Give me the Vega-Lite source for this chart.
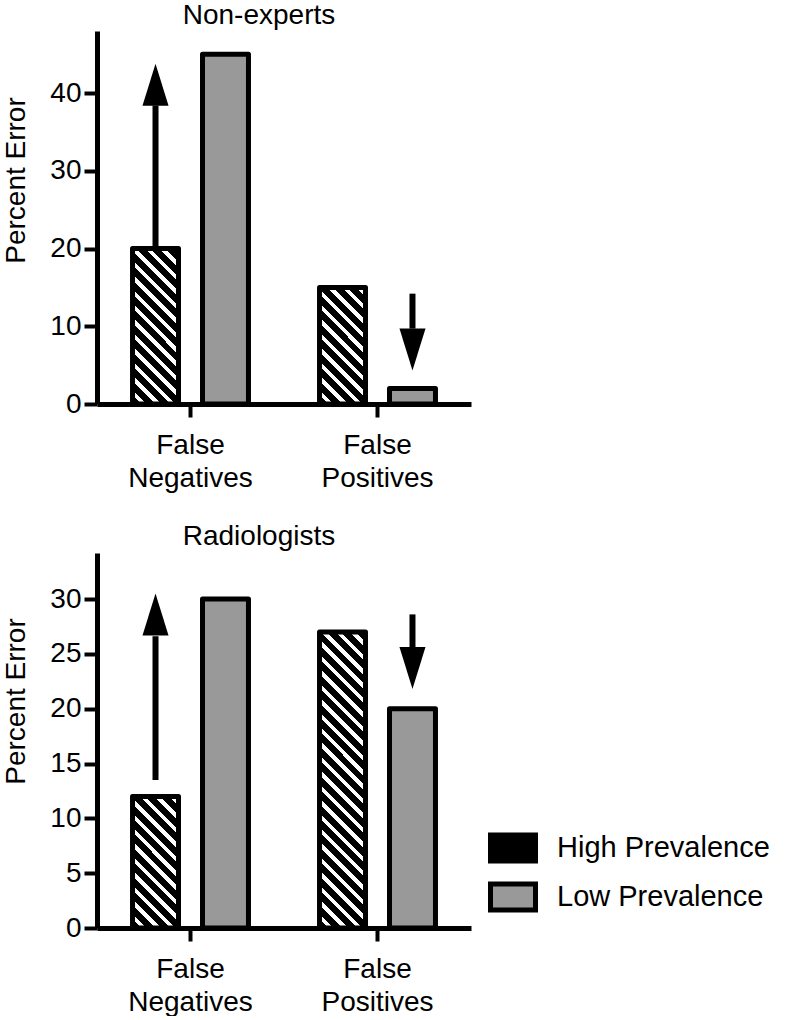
{
  "$schema": "https://vega.github.io/schema/vega-lite/v6.json",
  "background": "white",
  "padding": {"left": 2, "top": 2, "right": 0, "bottom": 0},
  "config": {
    "font": "Liberation Sans",
    "view": {"stroke": null},
    "axis": {"domainColor": "black", "domainWidth": 5, "tickColor": "black", "tickWidth": 4, "tickSize": 13, "labelColor": "black", "labelFontSize": 28, "labelFont": "Liberation Sans", "titleColor": "black", "titleFontSize": 28, "titleFontWeight": "normal", "titleFont": "Liberation Sans", "grid": false, "labelPadding": 3, "titlePadding": 19},
    "title": {"fontSize": 28, "fontWeight": "normal", "color": "black", "font": "Liberation Sans"}
  },
  "datasets": {
    "bars": [
      {"panel": "Non-experts", "category": "False Negatives", "prevalence": "High Prevalence", "value": 20},
      {"panel": "Non-experts", "category": "False Negatives", "prevalence": "Low Prevalence", "value": 45},
      {"panel": "Non-experts", "category": "False Positives", "prevalence": "High Prevalence", "value": 15},
      {"panel": "Non-experts", "category": "False Positives", "prevalence": "Low Prevalence", "value": 2},
      {"panel": "Radiologists", "category": "False Negatives", "prevalence": "High Prevalence", "value": 12},
      {"panel": "Radiologists", "category": "False Negatives", "prevalence": "Low Prevalence", "value": 30},
      {"panel": "Radiologists", "category": "False Positives", "prevalence": "High Prevalence", "value": 27},
      {"panel": "Radiologists", "category": "False Positives", "prevalence": "Low Prevalence", "value": 20}
    ],
    "arrows": [
      {"panel": "Non-experts", "category": "False Negatives", "prevalence": "High Prevalence", "start": 20, "base": 38.4, "tip": 43.8, "dir": "up"},
      {"panel": "Non-experts", "category": "False Positives", "prevalence": "Low Prevalence", "start": 14.2, "base": 9.7, "tip": 4.3, "dir": "down"},
      {"panel": "Radiologists", "category": "False Negatives", "prevalence": "High Prevalence", "start": 13.5, "base": 26.6, "tip": 30.5, "dir": "up"},
      {"panel": "Radiologists", "category": "False Positives", "prevalence": "Low Prevalence", "start": 28.6, "base": 25.6, "tip": 21.8, "dir": "down"}
    ]
  },
  "spacing": 31,
  "resolve": {"scale": {"y": "independent", "fill": "independent"}, "legend": {"fill": "independent"}},
  "vconcat": [
    {
      "width": 374,
      "height": 373,
      "title": {"text": "Non-experts", "frame": "group", "dx": -25, "offset": 1},
      "layer": [
        {
          "data": {"name": "bars"},
          "transform": [{"filter": "datum.panel === 'Non-experts'"}],
          "mark": {"type": "bar", "stroke": "black", "strokeWidth": 5, "strokeJoin": "round"},
          "encoding": {
            "x": {"field": "category", "type": "nominal", "sort": ["False Negatives", "False Positives"], "scale": {"paddingInner": 0.38, "paddingOuter": 0.19}, "axis": {"title": null, "labelAngle": 0, "labelExpr": "split(datum.label, ' ')", "labelLineHeight": 33, "labelFontSize": 28, "labelPadding": 14}},
            "xOffset": {"field": "prevalence", "type": "nominal", "scale": {"domain": ["High Prevalence", "Low Prevalence"], "paddingInner": 0.343, "paddingOuter": 0}},
            "y": {"field": "value", "type": "quantitative", "scale": {"domain": [0, 48], "nice": false}, "axis": {"values": [0, 10, 20, 30, 40], "title": "Percent Error", "titleY": 149}},
            "fill": {
              "field": "prevalence", "type": "nominal",
              "scale": {"domain": ["High Prevalence", "Low Prevalence"], "range": ["white", "#999999"]},
              "legend": null,
              "condition": [
                {"test": "datum.prevalence === 'High Prevalence' && datum.category === 'False Negatives'", "value": {"gradient": "linear", "x1": 0, "y1": 1, "x2": 0.3527, "y2": -0.1916, "stops": [{"offset":0,"color":"#000"},{"offset":0.0444,"color":"#000"},{"offset":0.0444,"color":"#fff"},{"offset":0.0716,"color":"#fff"},{"offset":0.0716,"color":"#000"},{"offset":0.116,"color":"#000"},{"offset":0.116,"color":"#fff"},{"offset":0.1432,"color":"#fff"},{"offset":0.1432,"color":"#000"},{"offset":0.1876,"color":"#000"},{"offset":0.1876,"color":"#fff"},{"offset":0.2148,"color":"#fff"},{"offset":0.2148,"color":"#000"},{"offset":0.2592,"color":"#000"},{"offset":0.2592,"color":"#fff"},{"offset":0.2865,"color":"#fff"},{"offset":0.2865,"color":"#000"},{"offset":0.3309,"color":"#000"},{"offset":0.3309,"color":"#fff"},{"offset":0.3581,"color":"#fff"},{"offset":0.3581,"color":"#000"},{"offset":0.4025,"color":"#000"},{"offset":0.4025,"color":"#fff"},{"offset":0.4297,"color":"#fff"},{"offset":0.4297,"color":"#000"},{"offset":0.4741,"color":"#000"},{"offset":0.4741,"color":"#fff"},{"offset":0.5013,"color":"#fff"},{"offset":0.5013,"color":"#000"},{"offset":0.5457,"color":"#000"},{"offset":0.5457,"color":"#fff"},{"offset":0.5729,"color":"#fff"},{"offset":0.5729,"color":"#000"},{"offset":0.6173,"color":"#000"},{"offset":0.6173,"color":"#fff"},{"offset":0.6445,"color":"#fff"},{"offset":0.6445,"color":"#000"},{"offset":0.6889,"color":"#000"},{"offset":0.6889,"color":"#fff"},{"offset":0.7161,"color":"#fff"},{"offset":0.7161,"color":"#000"},{"offset":0.7605,"color":"#000"},{"offset":0.7605,"color":"#fff"},{"offset":0.7878,"color":"#fff"},{"offset":0.7878,"color":"#000"},{"offset":0.8322,"color":"#000"},{"offset":0.8322,"color":"#fff"},{"offset":0.8594,"color":"#fff"},{"offset":0.8594,"color":"#000"},{"offset":0.9038,"color":"#000"},{"offset":0.9038,"color":"#fff"},{"offset":0.931,"color":"#fff"},{"offset":0.931,"color":"#000"},{"offset":0.9754,"color":"#000"},{"offset":0.9754,"color":"#fff"},{"offset":1,"color":"#fff"}]}},
                {"test": "datum.prevalence === 'High Prevalence' && datum.category === 'False Positives'", "value": {"gradient": "linear", "x1": 0, "y1": 1, "x2": 0.4762, "y2": -0.2067, "stops": [{"offset":0,"color":"#000"},{"offset":0.055,"color":"#000"},{"offset":0.055,"color":"#fff"},{"offset":0.0887,"color":"#fff"},{"offset":0.0887,"color":"#000"},{"offset":0.1437,"color":"#000"},{"offset":0.1437,"color":"#fff"},{"offset":0.1775,"color":"#fff"},{"offset":0.1775,"color":"#000"},{"offset":0.2325,"color":"#000"},{"offset":0.2325,"color":"#fff"},{"offset":0.2662,"color":"#fff"},{"offset":0.2662,"color":"#000"},{"offset":0.3212,"color":"#000"},{"offset":0.3212,"color":"#fff"},{"offset":0.3549,"color":"#fff"},{"offset":0.3549,"color":"#000"},{"offset":0.4099,"color":"#000"},{"offset":0.4099,"color":"#fff"},{"offset":0.4437,"color":"#fff"},{"offset":0.4437,"color":"#000"},{"offset":0.4987,"color":"#000"},{"offset":0.4987,"color":"#fff"},{"offset":0.5324,"color":"#fff"},{"offset":0.5324,"color":"#000"},{"offset":0.5874,"color":"#000"},{"offset":0.5874,"color":"#fff"},{"offset":0.6211,"color":"#fff"},{"offset":0.6211,"color":"#000"},{"offset":0.6761,"color":"#000"},{"offset":0.6761,"color":"#fff"},{"offset":0.7099,"color":"#fff"},{"offset":0.7099,"color":"#000"},{"offset":0.7649,"color":"#000"},{"offset":0.7649,"color":"#fff"},{"offset":0.7986,"color":"#fff"},{"offset":0.7986,"color":"#000"},{"offset":0.8536,"color":"#000"},{"offset":0.8536,"color":"#fff"},{"offset":0.8873,"color":"#fff"},{"offset":0.8873,"color":"#000"},{"offset":0.9423,"color":"#000"},{"offset":0.9423,"color":"#fff"},{"offset":0.9761,"color":"#fff"},{"offset":0.9761,"color":"#000"},{"offset":1,"color":"#000"}]}}
              ]
            }
          }
        },
        {
          "data": {"name": "arrows"},
          "transform": [{"filter": "datum.panel === 'Non-experts'"}],
          "mark": {"type": "rule", "color": "black", "strokeWidth": 6, "strokeCap": "butt"},
          "encoding": {
            "x": {"field": "category", "type": "nominal", "sort": ["False Negatives", "False Positives"]},
            "xOffset": {"field": "prevalence", "type": "nominal"},
            "y": {"field": "start", "type": "quantitative"},
            "y2": {"field": "base"}
          }
        },
        {
          "data": {"name": "arrows"},
          "transform": [{"filter": "datum.panel === 'Non-experts' && datum.dir === 'up'"}],
          "mark": {"type": "point", "filled": true, "color": "black", "opacity": 1, "size": 1764, "strokeWidth": 0, "shape": "M0,0L0.62,2L-0.62,2Z"},
          "encoding": {
            "x": {"field": "category", "type": "nominal", "sort": ["False Negatives", "False Positives"]},
            "xOffset": {"field": "prevalence", "type": "nominal"},
            "y": {"field": "tip", "type": "quantitative"}
          }
        },
        {
          "data": {"name": "arrows"},
          "transform": [{"filter": "datum.panel === 'Non-experts' && datum.dir === 'down'"}],
          "mark": {"type": "point", "filled": true, "color": "black", "opacity": 1, "size": 1764, "strokeWidth": 0, "shape": "M0,0L0.62,-2L-0.62,-2Z"},
          "encoding": {
            "x": {"field": "category", "type": "nominal", "sort": ["False Negatives", "False Positives"]},
            "xOffset": {"field": "prevalence", "type": "nominal"},
            "y": {"field": "tip", "type": "quantitative"}
          }
        }
      ]
    },
    {
      "width": 374,
      "height": 375,
      "title": {"text": "Radiologists", "frame": "group", "dx": -25, "offset": 2},
      "layer": [
        {
          "data": {"name": "bars"},
          "transform": [{"filter": "datum.panel === 'Radiologists'"}],
          "mark": {"type": "bar", "stroke": "black", "strokeWidth": 5, "strokeJoin": "round"},
          "encoding": {
            "x": {"field": "category", "type": "nominal", "sort": ["False Negatives", "False Positives"], "scale": {"paddingInner": 0.38, "paddingOuter": 0.19}, "axis": {"title": null, "labelAngle": 0, "labelExpr": "split(datum.label, ' ')", "labelLineHeight": 33, "labelFontSize": 28, "labelPadding": 14}},
            "xOffset": {"field": "prevalence", "type": "nominal", "scale": {"domain": ["High Prevalence", "Low Prevalence"], "paddingInner": 0.343, "paddingOuter": 0}},
            "y": {"field": "value", "type": "quantitative", "scale": {"domain": [0, 34.2], "nice": false}, "axis": {"values": [0, 5, 10, 15, 20, 25, 30], "title": "Percent Error", "titleY": 148}},
            "fill": {
              "field": "prevalence", "type": "nominal",
              "scale": {"domain": ["High Prevalence", "Low Prevalence"], "range": ["black", "#999999"]},
              "legend": {
                "title": null, "orient": "none", "legendX": 391, "legendY": 270, "padding": 0,
                "symbolType": "M-1,-0.578H1V0.578H-1Z", "symbolSize": 2025, "symbolStrokeWidth": 5, "symbolStrokeColor": "black",
                "labelFontSize": 29, "labelColor": "black", "labelFont": "Liberation Sans", "labelOffset": 19, "labelLimit": 0, "rowPadding": -6.5,
                "encode": {"symbols": {"update": {
                  "fill": {"condition": {"test": "datum.value === 'High Prevalence'", "value": "black"}, "value": "#999999"},
                  "shape": {"condition": {"test": "datum.value === 'High Prevalence'", "value": "M-1,-0.5778H1V0.5778H-1Z M-0.9556,-0.2749L-0.9556,0.2838L-0.706,0.5333L-0.1473,0.5333Z M-0.9556,-0.5333L-0.9556,-0.3562L-0.066,0.5333L0.4927,0.5333L-0.574,-0.5333Z M-0.4927,-0.5333L0.574,0.5333L0.9556,0.5333L0.9556,0.3562L0.066,-0.5333Z M0.1473,-0.5333L0.9556,0.2749L0.9556,-0.2838L0.706,-0.5333Z"}, "value": "M-1,-0.578H1V0.578H-1Z"},
                  "stroke": {"value": "black"},
                  "strokeWidth": {"value": 5},
                  "opacity": {"value": 1},
                  "fillOpacity": {"value": 1}
                }}}
              },
              "condition": [
                {"test": "datum.prevalence === 'High Prevalence' && datum.category === 'False Negatives'", "value": {"gradient": "linear", "x1": 0, "y1": 1, "x2": 0.4204, "y2": -0.2026, "stops": [{"offset":0,"color":"#000"},{"offset":0.0504,"color":"#000"},{"offset":0.0504,"color":"#fff"},{"offset":0.0812,"color":"#fff"},{"offset":0.0812,"color":"#000"},{"offset":0.1316,"color":"#000"},{"offset":0.1316,"color":"#fff"},{"offset":0.1625,"color":"#fff"},{"offset":0.1625,"color":"#000"},{"offset":0.2128,"color":"#000"},{"offset":0.2128,"color":"#fff"},{"offset":0.2437,"color":"#fff"},{"offset":0.2437,"color":"#000"},{"offset":0.294,"color":"#000"},{"offset":0.294,"color":"#fff"},{"offset":0.3249,"color":"#fff"},{"offset":0.3249,"color":"#000"},{"offset":0.3753,"color":"#000"},{"offset":0.3753,"color":"#fff"},{"offset":0.4062,"color":"#fff"},{"offset":0.4062,"color":"#000"},{"offset":0.4565,"color":"#000"},{"offset":0.4565,"color":"#fff"},{"offset":0.4874,"color":"#fff"},{"offset":0.4874,"color":"#000"},{"offset":0.5377,"color":"#000"},{"offset":0.5377,"color":"#fff"},{"offset":0.5686,"color":"#fff"},{"offset":0.5686,"color":"#000"},{"offset":0.619,"color":"#000"},{"offset":0.619,"color":"#fff"},{"offset":0.6498,"color":"#fff"},{"offset":0.6498,"color":"#000"},{"offset":0.7002,"color":"#000"},{"offset":0.7002,"color":"#fff"},{"offset":0.7311,"color":"#fff"},{"offset":0.7311,"color":"#000"},{"offset":0.7814,"color":"#000"},{"offset":0.7814,"color":"#fff"},{"offset":0.8123,"color":"#fff"},{"offset":0.8123,"color":"#000"},{"offset":0.8627,"color":"#000"},{"offset":0.8627,"color":"#fff"},{"offset":0.8935,"color":"#fff"},{"offset":0.8935,"color":"#000"},{"offset":0.9439,"color":"#000"},{"offset":0.9439,"color":"#fff"},{"offset":0.9748,"color":"#fff"},{"offset":0.9748,"color":"#000"},{"offset":1,"color":"#000"}]}},
                {"test": "datum.prevalence === 'High Prevalence' && datum.category === 'False Positives'", "value": {"gradient": "linear", "x1": 0, "y1": 1, "x2": 0.1753, "y2": -0.1282, "stops": [{"offset":0,"color":"#000"},{"offset":0.0261,"color":"#000"},{"offset":0.0261,"color":"#fff"},{"offset":0.0422,"color":"#fff"},{"offset":0.0422,"color":"#000"},{"offset":0.0683,"color":"#000"},{"offset":0.0683,"color":"#fff"},{"offset":0.0843,"color":"#fff"},{"offset":0.0843,"color":"#000"},{"offset":0.1105,"color":"#000"},{"offset":0.1105,"color":"#fff"},{"offset":0.1265,"color":"#fff"},{"offset":0.1265,"color":"#000"},{"offset":0.1527,"color":"#000"},{"offset":0.1527,"color":"#fff"},{"offset":0.1687,"color":"#fff"},{"offset":0.1687,"color":"#000"},{"offset":0.1948,"color":"#000"},{"offset":0.1948,"color":"#fff"},{"offset":0.2109,"color":"#fff"},{"offset":0.2109,"color":"#000"},{"offset":0.237,"color":"#000"},{"offset":0.237,"color":"#fff"},{"offset":0.253,"color":"#fff"},{"offset":0.253,"color":"#000"},{"offset":0.2792,"color":"#000"},{"offset":0.2792,"color":"#fff"},{"offset":0.2952,"color":"#fff"},{"offset":0.2952,"color":"#000"},{"offset":0.3214,"color":"#000"},{"offset":0.3214,"color":"#fff"},{"offset":0.3374,"color":"#fff"},{"offset":0.3374,"color":"#000"},{"offset":0.3635,"color":"#000"},{"offset":0.3635,"color":"#fff"},{"offset":0.3796,"color":"#fff"},{"offset":0.3796,"color":"#000"},{"offset":0.4057,"color":"#000"},{"offset":0.4057,"color":"#fff"},{"offset":0.4217,"color":"#fff"},{"offset":0.4217,"color":"#000"},{"offset":0.4479,"color":"#000"},{"offset":0.4479,"color":"#fff"},{"offset":0.4639,"color":"#fff"},{"offset":0.4639,"color":"#000"},{"offset":0.4901,"color":"#000"},{"offset":0.4901,"color":"#fff"},{"offset":0.5061,"color":"#fff"},{"offset":0.5061,"color":"#000"},{"offset":0.5322,"color":"#000"},{"offset":0.5322,"color":"#fff"},{"offset":0.5482,"color":"#fff"},{"offset":0.5482,"color":"#000"},{"offset":0.5744,"color":"#000"},{"offset":0.5744,"color":"#fff"},{"offset":0.5904,"color":"#fff"},{"offset":0.5904,"color":"#000"},{"offset":0.6166,"color":"#000"},{"offset":0.6166,"color":"#fff"},{"offset":0.6326,"color":"#fff"},{"offset":0.6326,"color":"#000"},{"offset":0.6587,"color":"#000"},{"offset":0.6587,"color":"#fff"},{"offset":0.6748,"color":"#fff"},{"offset":0.6748,"color":"#000"},{"offset":0.7009,"color":"#000"},{"offset":0.7009,"color":"#fff"},{"offset":0.7169,"color":"#fff"},{"offset":0.7169,"color":"#000"},{"offset":0.7431,"color":"#000"},{"offset":0.7431,"color":"#fff"},{"offset":0.7591,"color":"#fff"},{"offset":0.7591,"color":"#000"},{"offset":0.7853,"color":"#000"},{"offset":0.7853,"color":"#fff"},{"offset":0.8013,"color":"#fff"},{"offset":0.8013,"color":"#000"},{"offset":0.8274,"color":"#000"},{"offset":0.8274,"color":"#fff"},{"offset":0.8435,"color":"#fff"},{"offset":0.8435,"color":"#000"},{"offset":0.8696,"color":"#000"},{"offset":0.8696,"color":"#fff"},{"offset":0.8856,"color":"#fff"},{"offset":0.8856,"color":"#000"},{"offset":0.9118,"color":"#000"},{"offset":0.9118,"color":"#fff"},{"offset":0.9278,"color":"#fff"},{"offset":0.9278,"color":"#000"},{"offset":0.954,"color":"#000"},{"offset":0.954,"color":"#fff"},{"offset":0.97,"color":"#fff"},{"offset":0.97,"color":"#000"},{"offset":0.9961,"color":"#000"},{"offset":0.9961,"color":"#fff"},{"offset":1,"color":"#fff"}]}}
              ]
            }
          }
        },
        {
          "data": {"name": "arrows"},
          "transform": [{"filter": "datum.panel === 'Radiologists'"}],
          "mark": {"type": "rule", "color": "black", "strokeWidth": 6, "strokeCap": "butt"},
          "encoding": {
            "x": {"field": "category", "type": "nominal", "sort": ["False Negatives", "False Positives"]},
            "xOffset": {"field": "prevalence", "type": "nominal"},
            "y": {"field": "start", "type": "quantitative"},
            "y2": {"field": "base"}
          }
        },
        {
          "data": {"name": "arrows"},
          "transform": [{"filter": "datum.panel === 'Radiologists' && datum.dir === 'up'"}],
          "mark": {"type": "point", "filled": true, "color": "black", "opacity": 1, "size": 1764, "strokeWidth": 0, "shape": "M0,0L0.62,2L-0.62,2Z"},
          "encoding": {
            "x": {"field": "category", "type": "nominal", "sort": ["False Negatives", "False Positives"]},
            "xOffset": {"field": "prevalence", "type": "nominal"},
            "y": {"field": "tip", "type": "quantitative"}
          }
        },
        {
          "data": {"name": "arrows"},
          "transform": [{"filter": "datum.panel === 'Radiologists' && datum.dir === 'down'"}],
          "mark": {"type": "point", "filled": true, "color": "black", "opacity": 1, "size": 1764, "strokeWidth": 0, "shape": "M0,0L0.62,-2L-0.62,-2Z"},
          "encoding": {
            "x": {"field": "category", "type": "nominal", "sort": ["False Negatives", "False Positives"]},
            "xOffset": {"field": "prevalence", "type": "nominal"},
            "y": {"field": "tip", "type": "quantitative"}
          }
        }
      ]
    }
  ]
}
